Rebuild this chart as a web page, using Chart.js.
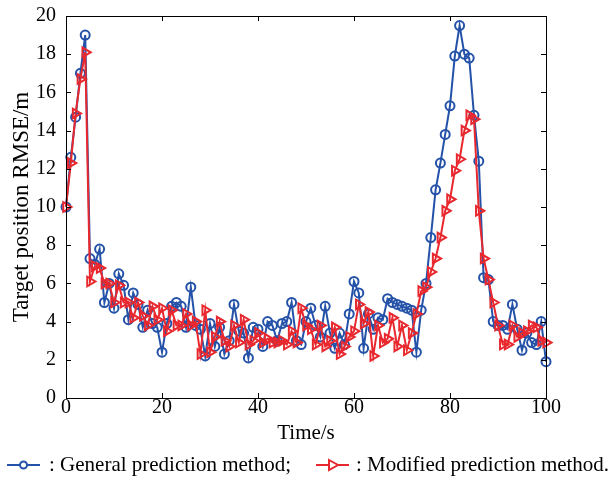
<!DOCTYPE html>
<html>
<head>
<meta charset="utf-8">
<script src="https://cdn.jsdelivr.net/npm/chart.js@4/dist/chart.umd.min.js"></script>
<style>
  html, body { margin: 0; padding: 0; background: #fff; }
  #wrap { width: 613px; height: 477px; }
</style>
</head>
<body>
<div id="wrap"><canvas id="rmseChart" width="613" height="477"></canvas></div>
<script>
// 数据：每秒一个采样点
const seriesNames = ['General prediction method;', 'Modified prediction method.'];
const general = [
  10.0, 12.6, 14.7, 17.0, 19.0, 7.3, 7.0, 7.8, 5.0, 6.0,
  4.7, 6.5, 5.9, 4.1, 5.5, 4.9, 3.7, 4.6, 3.9, 3.7,
  2.4, 3.9, 4.8, 5.0, 4.8, 3.7, 5.8, 3.8, 3.6, 2.2,
  3.9, 2.7, 3.7, 2.3, 3.0, 4.9, 3.5, 3.4, 2.1, 3.7,
  3.6, 2.7, 4.0, 3.8, 3.0, 3.9, 4.0, 5.0, 3.0, 2.8,
  4.0, 4.7, 3.8, 3.2, 4.8, 3.4, 2.6, 3.4, 2.8, 4.4,
  6.1, 5.5, 2.6, 4.4, 3.6, 4.2, 4.1, 5.2, 5.0, 4.9,
  4.8, 4.7, 4.6, 2.4, 4.6, 6.0, 8.4, 10.9, 12.3, 13.8,
  15.3, 17.9, 19.5, 18.0, 17.8, 14.8, 12.4, 6.3, 6.2, 4.0,
  3.8, 3.8, 3.6, 4.9, 3.6, 2.5, 3.4, 2.9, 2.8, 4.0,
  1.9
];
const modified = [
  10.0, 12.3, 14.9, 16.7, 18.1, 6.1, 6.9, 6.8, 6.0, 6.0,
  5.0, 5.9, 5.0, 5.0, 4.2, 5.0, 4.3, 3.8, 4.8, 4.1,
  4.7, 3.5, 4.6, 3.8, 3.8, 4.4, 3.8, 4.0, 2.3, 4.6,
  2.4, 3.2, 4.0, 3.0, 2.7, 3.8, 2.9, 4.1, 2.8, 3.0,
  3.4, 2.9, 3.1, 2.9, 2.9, 3.0, 2.8, 3.5, 2.9, 4.7,
  3.8, 3.6, 2.8, 3.8, 2.7, 3.0, 3.7, 2.3, 2.7, 3.2,
  3.5, 4.9, 3.9, 4.5, 2.2, 3.8, 2.9, 3.1, 4.2, 2.7,
  3.8, 2.5, 3.4, 4.4, 5.6, 5.8, 6.6, 7.3, 8.4, 9.8,
  10.4, 11.9, 12.5, 14.0, 14.8, 14.6, 9.8, 7.3, 6.2, 5.0,
  3.8, 2.8, 2.8, 3.8, 3.2, 3.4, 3.5, 3.8, 3.7, 3.0,
  2.9
];
const time = general.map((_, i) => i);
const xTicks = [0, 20, 40, 60, 80, 100];
const yTicks = [0, 2, 4, 6, 8, 10, 12, 14, 16, 18, 20];

const BLUE = '#2452a8';
const RED = '#e8282e';
const FONT = '"Liberation Serif", "Times New Roman", serif';

// 坐标框 + 内向刻度 (MATLAB 风格)
const boxPlugin = {
  id: 'box',
  afterDraw(chart) {
    const { ctx, chartArea: a, scales } = chart;
    ctx.save();
    ctx.strokeStyle = '#000';
    ctx.lineWidth = 1;
    const len = 5;
    xTicks.forEach(v => {
      const px = Math.round(scales.x.getPixelForValue(v)) + 0.5;
      ctx.beginPath();
      ctx.moveTo(px, a.bottom); ctx.lineTo(px, a.bottom - len);
      ctx.moveTo(px, a.top); ctx.lineTo(px, a.top + len);
      ctx.stroke();
    });
    yTicks.forEach(v => {
      const py = Math.round(scales.y.getPixelForValue(v)) + 0.5;
      ctx.beginPath();
      ctx.moveTo(a.left, py); ctx.lineTo(a.left + len, py);
      ctx.moveTo(a.right, py); ctx.lineTo(a.right - len, py);
      ctx.stroke();
    });
    ctx.strokeRect(Math.round(a.left) + 0.5, Math.round(a.top) + 0.5,
                   Math.round(a.right - a.left), Math.round(a.bottom - a.top));
    ctx.restore();
  }
};

// 底部图例
const legendPlugin = {
  id: 'bottomLegend',
  afterDraw(chart) {
    const ctx = chart.ctx;
    const y = 465;
    ctx.save();
    ctx.font = '21px ' + FONT;
    ctx.textBaseline = 'middle';
    // blue
    ctx.strokeStyle = BLUE; ctx.lineWidth = 2;
    ctx.beginPath(); ctx.moveTo(7, y); ctx.lineTo(40, y); ctx.stroke();
    ctx.beginPath(); ctx.arc(23.5, y, 3.5, 0, Math.PI * 2);
    ctx.fillStyle = '#fff'; ctx.fill(); ctx.stroke();
    ctx.fillStyle = '#000';
    ctx.fillText(': ' + seriesNames[0], 49, y);
    // red
    ctx.strokeStyle = RED;
    ctx.beginPath(); ctx.moveTo(316, y); ctx.lineTo(349, y); ctx.stroke();
    ctx.beginPath();
    ctx.moveTo(329, y - 5); ctx.lineTo(338, y); ctx.lineTo(329, y + 5); ctx.closePath();
    ctx.fillStyle = '#fff'; ctx.fill(); ctx.stroke();
    ctx.fillStyle = '#000';
    ctx.fillText(': ' + seriesNames[1], 356, y);
    ctx.restore();
  }
};

new Chart(document.getElementById('rmseChart'), {
  type: 'line',
  data: {
    datasets: [
      {
        label: seriesNames[0],
        data: time.map((t, i) => ({ x: t, y: general[i] })),
        borderColor: BLUE,
        borderWidth: 2,
        backgroundColor: 'rgba(0,0,0,0)',
        pointStyle: 'circle',
        pointRadius: 4.5,
        pointBorderWidth: 2,
        pointBorderColor: BLUE,
        pointBackgroundColor: 'rgba(0,0,0,0)',
        tension: 0,
        order: 1
      },
      {
        label: seriesNames[1],
        data: time.map((t, i) => ({ x: t, y: modified[i] })),
        borderColor: RED,
        borderWidth: 2,
        backgroundColor: 'rgba(0,0,0,0)',
        pointStyle: 'triangle',
        pointRotation: 90,
        pointRadius: 5.5,
        pointBorderWidth: 2,
        pointBorderColor: RED,
        pointBackgroundColor: 'rgba(0,0,0,0)',
        tension: 0,
        order: 0
      }
    ]
  },
  options: {
    responsive: false,
    animation: false,
    clip: false,
    layout: { padding: { left: 8, top: 16, right: 67, bottom: 31 } },
    plugins: { legend: { display: false }, tooltip: { enabled: false } },
    scales: {
      x: {
        type: 'linear',
        min: 0, max: 100,
        afterBuildTicks: s => { s.ticks = xTicks.map(v => ({ value: v })); },
        afterFit: s => { s.height = 48; s.paddingLeft = 0; s.paddingRight = 0; },
        grid: { display: false, drawTicks: false },
        border: { display: false },
        ticks: { color: '#000', font: { family: FONT, size: 20 }, padding: -2, maxRotation: 0 },
        title: { display: true, text: 'Time/s', color: '#000', font: { family: FONT, size: 21 }, padding: { top: 0, bottom: 0 } }
      },
      y: {
        min: 0, max: 20,
        afterBuildTicks: s => { s.ticks = yTicks.map(v => ({ value: v })); },
        afterFit: s => { s.width = 58; s.paddingTop = 0; s.paddingBottom = 0; },
        grid: { display: false, drawTicks: false },
        border: { display: false },
        ticks: { color: '#000', font: { family: FONT, size: 20 }, padding: 10 },
        title: { display: true, text: 'Target position RMSE/m', color: '#000', font: { family: FONT, size: 23 }, padding: { top: 0, bottom: 0 } }
      }
    }
  },
  plugins: [boxPlugin, legendPlugin]
});
</script>
</body>
</html>
